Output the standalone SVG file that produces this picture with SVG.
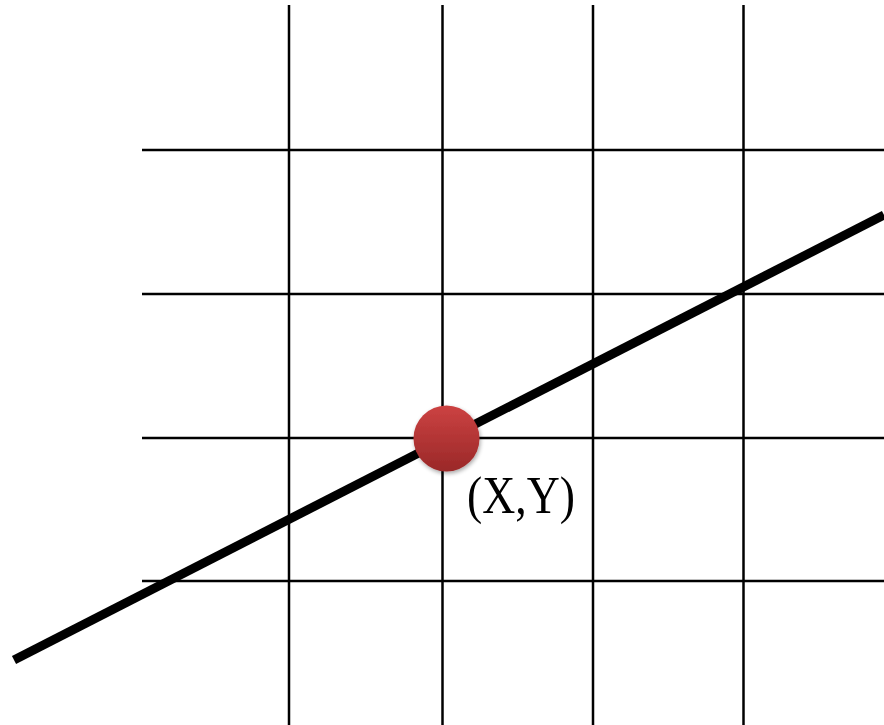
<svg xmlns="http://www.w3.org/2000/svg" width="884" height="725" viewBox="0 0 884 725">
<style>
.g{stroke:#000;stroke-width:2.5;fill:none}
.lbl{font-family:"Liberation Serif","Times New Roman",serif;font-size:52px;fill:#000}
</style>
<defs>
<linearGradient id="red" x1="0" y1="0" x2="0" y2="1">
<stop offset="0" stop-color="#cc4242"/>
<stop offset="1" stop-color="#9a2828"/>
</linearGradient>
<filter id="sh" x="-30%" y="-30%" width="160%" height="160%">
<feGaussianBlur in="SourceAlpha" stdDeviation="2"/>
<feOffset dx="1" dy="2" result="b"/>
<feComponentTransfer><feFuncA type="linear" slope="0.35"/></feComponentTransfer>
<feMerge><feMergeNode/><feMergeNode in="SourceGraphic"/></feMerge>
</filter>
</defs>
<rect width="884" height="725" fill="#fff"/>
<g id="grid">
<line class="g" x1="289" y1="5" x2="289" y2="725"/>
<line class="g" x1="442.5" y1="5" x2="442.5" y2="725"/>
<line class="g" x1="593" y1="5" x2="593" y2="725"/>
<line class="g" x1="743.5" y1="5" x2="743.5" y2="725"/>
<line class="g" x1="142" y1="150" x2="884" y2="150"/>
<line class="g" x1="142" y1="294" x2="884" y2="294"/>
<line class="g" x1="142" y1="438" x2="884" y2="438"/>
<line class="g" x1="142" y1="581" x2="884" y2="581"/>
</g>
<g id="connectors">
<line x1="14" y1="660" x2="884" y2="215" stroke="#000" stroke-width="9"/>
</g>
<g id="point">
<circle cx="446.5" cy="438.5" r="33" fill="url(#red)" filter="url(#sh)"/>
</g>
<g id="label">
<text class="lbl" x="467" y="513" textLength="108" lengthAdjust="spacingAndGlyphs">(X,Y)</text>
</g>
</svg>
